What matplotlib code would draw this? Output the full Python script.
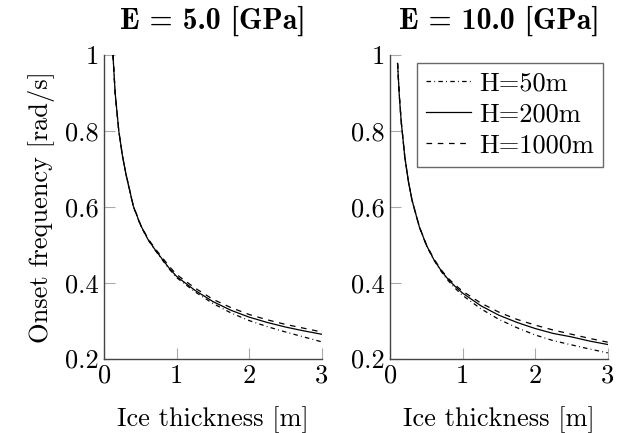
import numpy as np
import matplotlib.pyplot as plt

plt.rcParams['font.family'] = ['cmr10', 'DejaVu Serif']
plt.rcParams['axes.unicode_minus'] = False

# ice thickness [m] and onset frequency [rad/s]
h_left = [0.12, 0.15, 0.2, 0.25, 0.3, 0.4, 0.5, 0.6, 0.7, 0.8, 0.9, 1.0,
          1.25, 1.5, 1.75, 2.0, 2.25, 2.5, 2.75, 3.0]
w5_h50 = [1.0, 0.90, 0.80, 0.735, 0.685, 0.601, 0.551, 0.514, 0.486, 0.460,
          0.435, 0.413, 0.376, 0.345, 0.320, 0.300, 0.284, 0.270, 0.257, 0.244]
w5_h200 = [1.0, 0.90, 0.80, 0.735, 0.685, 0.602, 0.552, 0.515, 0.487, 0.462,
           0.437, 0.416, 0.380, 0.350, 0.327, 0.309, 0.295, 0.283, 0.273, 0.264]
w5_h1000 = [1.0, 0.90, 0.80, 0.735, 0.686, 0.603, 0.553, 0.517, 0.490, 0.466,
            0.442, 0.421, 0.386, 0.356, 0.334, 0.316, 0.302, 0.290, 0.280, 0.270]

h_right = [0.1, 0.125, 0.15, 0.2, 0.25, 0.3, 0.4, 0.5, 0.6, 0.7, 0.8, 0.9, 1.0,
           1.25, 1.5, 1.75, 2.0, 2.25, 2.5, 2.75, 3.0]
w10_h50 = [0.978, 0.89, 0.825, 0.731, 0.666, 0.617, 0.547, 0.497, 0.460, 0.430,
           0.405, 0.384, 0.366, 0.331, 0.303, 0.281, 0.262, 0.247, 0.236, 0.225, 0.215]
w10_h200 = [0.978, 0.89, 0.825, 0.731, 0.666, 0.617, 0.547, 0.498, 0.461, 0.432,
            0.408, 0.389, 0.372, 0.339, 0.314, 0.295, 0.279, 0.266, 0.257, 0.246, 0.237]
w10_h1000 = [0.978, 0.89, 0.825, 0.731, 0.666, 0.617, 0.548, 0.499, 0.463, 0.434,
             0.411, 0.393, 0.377, 0.346, 0.322, 0.303, 0.288, 0.275, 0.264, 0.253, 0.243]

titles = ['E = 5.0 [GPa]', 'E = 10.0 [GPa]']
labels = ['H=50m', 'H=200m', 'H=1000m']
yticks = [0.2, 0.4, 0.6, 0.8, 1.0]
ytick_labels = ['0.2', '0.4', '0.6', '0.8', '1']
xticks = [0, 1, 2, 3]

fs = 19

fig = plt.figure(figsize=(6.32, 4.33), dpi=100)
ax1 = fig.add_axes([0.165, 0.172, 0.344, 0.701])
ax2 = fig.add_axes([0.6176, 0.172, 0.344, 0.701])

data = [(h_left, [w5_h50, w5_h200, w5_h1000]),
        (h_right, [w10_h50, w10_h200, w10_h1000])]

for ax, (h, series), title in zip([ax1, ax2], data, titles):
    ax.plot(h, series[0], color='k', lw=0.9, dashes=(3.6, 2.6, 0.7, 2.6), label=labels[0])
    ax.plot(h, series[1], color='k', lw=0.9, label=labels[1])
    ax.plot(h, series[2], color='k', lw=0.9, dashes=(4.5, 4.5), label=labels[2])
    ax.set_xlim(0, 3)
    ax.set_ylim(0.2, 1.0)
    ax.set_xticks(xticks)
    ax.set_xticklabels([str(x) for x in xticks])
    ax.set_yticks(yticks)
    ax.set_yticklabels(ytick_labels)
    ax.spines['top'].set_visible(False)
    ax.spines['right'].set_visible(False)
    for s in ['left', 'bottom']:
        ax.spines[s].set_color('#444444')
        ax.spines[s].set_linewidth(1.0)
    ax.tick_params(direction='in', length=8, width=0.8, color='#aaaaaa',
                   labelsize=fs, pad=4)
    ax.set_xlabel('Ice thickness [m]', fontsize=fs, labelpad=13)
    ax.set_title(title, fontsize=21.5, family=['cmb10', 'DejaVu Serif'], pad=19)

ax1.set_ylabel('Onset frequency [rad/s]', fontsize=fs, labelpad=7)

leg = ax2.legend(loc='upper right', bbox_to_anchor=(0.978, 0.975), fontsize=fs,
                 frameon=True, fancybox=False, handlelength=1.7, handletextpad=0.3,
                 borderpad=0.35, labelspacing=0.27, borderaxespad=0.0)
leg.get_frame().set_edgecolor('#444444')
leg.get_frame().set_linewidth(1.0)

fig.savefig('out.png', dpi=100)
